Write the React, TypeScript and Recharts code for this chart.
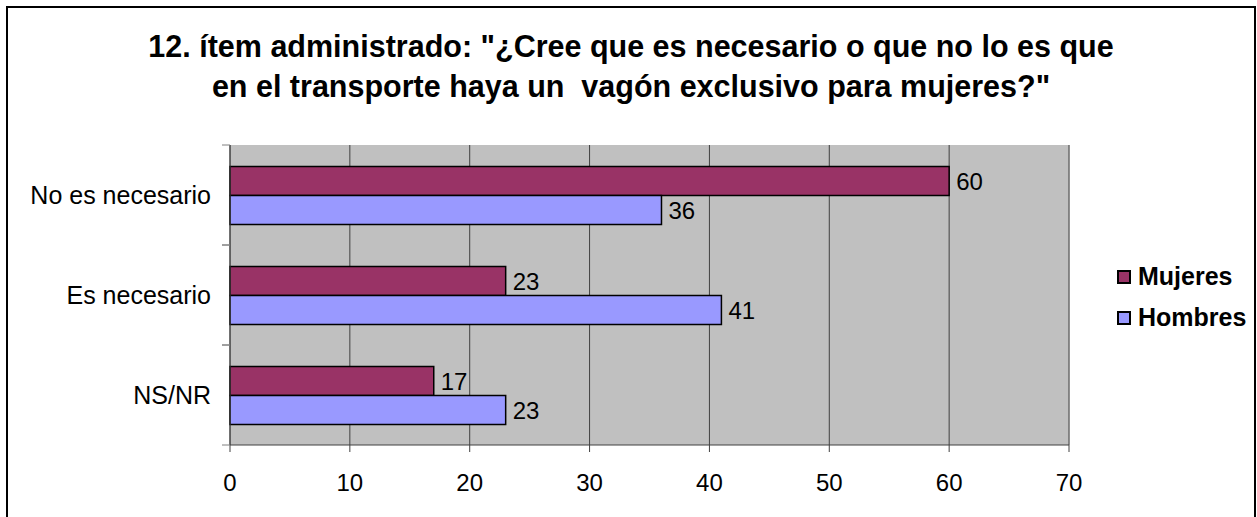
import React from 'react';
import {
  BarChart,
  Bar,
  XAxis,
  YAxis,
  CartesianGrid,
  Legend,
  LabelList,
  ReferenceLine,
} from 'recharts';

const categories = ['No es necesario', 'Es necesario', 'NS/NR'];
const seriesNames = ['Mujeres', 'Hombres'];
const mujeres = [60, 23, 17];
const hombres = [36, 41, 23];
const xTicks = [0, 10, 20, 30, 40, 50, 60, 70];

const data = categories.map((name, i) => ({
  name,
  Mujeres: mujeres[i],
  Hombres: hombres[i],
}));

const FONT = '"Liberation Sans", Arial, sans-serif';
const TICK_SIZE = 8;
const TICK_MARGIN = 11;

// category label plus Excel-style tick marks between the bands
const CategoryTick = (props: any) => {
  const { x, y, payload, height, visibleTicksCount } = props;
  const half =
    typeof payload.offset === 'number' && payload.offset > 0
      ? payload.offset
      : height / visibleTicksCount / 2;
  const x1 = x + TICK_MARGIN;
  const x2 = x1 + TICK_SIZE;
  return (
    <g>
      <line x1={x1} x2={x2} y1={y - half} y2={y - half} stroke="#808080" />
      <line x1={x1} x2={x2} y1={y + half} y2={y + half} stroke="#808080" />
      <text
        x={x}
        y={y}
        dy="0.355em"
        textAnchor="end"
        fontSize={25}
        fontFamily={FONT}
        fill="#000"
      >
        {payload.value}
      </text>
    </g>
  );
};

const renderLegend = (props: any) => {
  const items = [...props.payload].sort(
    (a: any, b: any) => seriesNames.indexOf(a.value) - seriesNames.indexOf(b.value)
  );
  return (
    <div style={{ fontFamily: FONT, fontWeight: 'bold', fontSize: 25 }}>
      {items.map((entry: any) => (
        <div
          key={entry.value}
          style={{ display: 'flex', alignItems: 'center', height: 41, lineHeight: '41px' }}
        >
          <span
            style={{
              display: 'inline-block',
              boxSizing: 'border-box',
              flex: '0 0 14px',
              width: 14,
              height: 14,
              background: entry.color,
              border: '2px solid #000',
              marginRight: 7,
            }}
          />
          <span style={{ color: '#000' }}>{entry.value}</span>
        </div>
      ))}
    </div>
  );
};

export default function App() {
  return (
    <div
      style={{
        position: 'absolute',
        left: 0,
        top: 0,
        width: 1257,
        height: 517,
        overflow: 'hidden',
        background: '#fff',
      }}
    >
      <div
        style={{
          position: 'absolute',
          left: 6,
          top: 6,
          width: 1250,
          height: 540,
          boxSizing: 'border-box',
          border: '2px solid #000',
        }}
      />
      <div
        style={{
          position: 'absolute',
          left: 7,
          top: 26,
          width: 1248,
          textAlign: 'center',
          fontFamily: FONT,
          fontWeight: 'bold',
          fontSize: 30.5,
          lineHeight: '40px',
          whiteSpace: 'pre',
          color: '#000',
        }}
      >
        {'12. ítem administrado: "¿Cree que es necesario o que no lo es que\nen el transporte haya un  vagón exclusivo para mujeres?"'}
      </div>
      <BarChart
        width={1257}
        height={517}
        data={data}
        layout="vertical"
        margin={{ top: 145, right: 188, bottom: 0, left: 0 }}
        barCategoryGap="21.5%"
        barGap={0}
      >
        <CartesianGrid
          horizontal={false}
          stroke="#404040"
          fill="#c0c0c0"
          fillOpacity={1}
        />
        <XAxis
          type="number"
          domain={[0, 70]}
          ticks={xTicks}
          interval={0}
          height={72}
          tickSize={7}
          tickMargin={22}
          stroke="#404040"
          tick={{ fontSize: 24, fontFamily: FONT, fill: '#000' }}
        />
        <XAxis
          xAxisId="top"
          orientation="top"
          type="number"
          domain={[0, 70]}
          height={0}
          tick={false}
          tickLine={false}
          stroke="#808080"
        />
        <YAxis
          type="category"
          dataKey="name"
          width={230}
          tickSize={TICK_SIZE}
          tickMargin={TICK_MARGIN}
          tickLine={false}
          stroke="#404040"
          tick={<CategoryTick />}
        />
        <ReferenceLine x={70} stroke="#808080" ifOverflow="visible" />
        <Legend
          layout="vertical"
          align="right"
          verticalAlign="top"
          content={renderLegend}
          wrapperStyle={{ left: 1117, top: 256, width: 0, height: 0, whiteSpace: 'nowrap' }}
        />
        <Bar
          dataKey="Mujeres"
          fill="#993366"
          stroke="#000"
          strokeWidth={1.5}
          isAnimationActive={false}
        >
          <LabelList
            dataKey="Mujeres"
            position="right"
            offset={7}
            fill="#000"
            fontSize={24}
            fontFamily={FONT}
          />
        </Bar>
        <Bar
          dataKey="Hombres"
          fill="#9999ff"
          stroke="#000"
          strokeWidth={1.5}
          isAnimationActive={false}
        >
          <LabelList
            dataKey="Hombres"
            position="right"
            offset={7}
            fill="#000"
            fontSize={24}
            fontFamily={FONT}
          />
        </Bar>
      </BarChart>
    </div>
  );
}
